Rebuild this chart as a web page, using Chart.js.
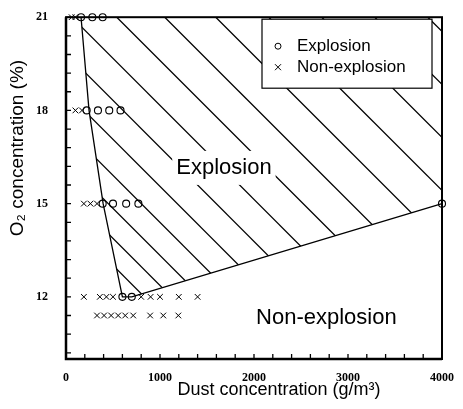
<!DOCTYPE html>
<html>
<head>
<meta charset="utf-8">
<script src="https://cdn.jsdelivr.net/npm/chart.js@4.4.0/dist/chart.umd.min.js"></script>
<style>
  html, body { margin: 0; padding: 0; background: #fff; }
</style>
</head>
<body>
<canvas id="dustChart" width="463" height="409"></canvas>
<script>
// Explosion trials (dust g/m3, O2 %)
const explosionX = [160, 280, 390,  220, 340, 460, 580,  390, 500, 640, 770,  600, 700,  4000];
const explosionY = [21, 21, 21,     18, 18, 18, 18,      15, 15, 15, 15,      12, 12,    15];

// Non-explosion trials
const nonExplosionX = [60, 100,  100, 170,  190, 260, 330,
  190, 360, 430, 500, 800, 900, 1000, 1200, 1400,
  330, 405, 480, 555, 630, 715, 895, 1035, 1195];
const nonExplosionY = [21, 21,  18, 18,  15, 15, 15,
  12, 12, 12, 12, 12, 12, 12, 12, 12,
  11.4, 11.4, 11.4, 11.4, 11.4, 11.4, 11.4, 11.4, 11.4];

// explosion limit line
const boundaryX = [160, 245, 395, 600, 700, 4000];
const boundaryY = [21, 18, 15, 12, 12, 15];

const xTicks = [0, 1000, 2000, 3000, 4000];
const yTicks = [12, 15, 18, 21];
const xMin = 0, xMax = 4000, yMin = 10, yMax = 21;
const xMinorStep = 200, yMinorStep = 0.6;

const legendItems = ['Explosion', 'Non-explosion'];

const sans = 'Liberation Sans, Arial, sans-serif';

// hatching of the explosion region + labels + legend
const decorPlugin = {
  id: 'decor',
  beforeDatasetsDraw(chart) {
    const { ctx, chartArea: area, scales: { x, y } } = chart;
    const poly = boundaryX.map((v, i) => [x.getPixelForValue(v), y.getPixelForValue(boundaryY[i])]);
    poly.push([x.getPixelForValue(xMax), y.getPixelForValue(yMax)]);

    ctx.save();
    ctx.beginPath();
    poly.forEach(([px, py], i) => i ? ctx.lineTo(px, py) : ctx.moveTo(px, py));
    ctx.closePath();
    ctx.clip();
    const cs = poly.map(([px, py]) => px - py);
    const cMin = Math.min(...cs), cMax = Math.max(...cs);
    ctx.strokeStyle = '#000';
    ctx.lineWidth = 1.3;
    let c = cMin + 22, gap = 27;
    while (c < cMax) {
      ctx.beginPath();
      ctx.moveTo(area.top + c, area.top);
      ctx.lineTo(area.bottom + c, area.bottom);
      ctx.stroke();
      c += gap;
      gap = Math.min(gap + 3, 53);
    }
    ctx.restore();

    // region labels
    ctx.save();
    ctx.font = '22px ' + sans;
    ctx.textAlign = 'center';
    ctx.textBaseline = 'middle';
    const ex = x.getPixelForValue(1680), ey = y.getPixelForValue(16.15);
    const w = ctx.measureText('Explosion').width;
    ctx.fillStyle = '#fff';
    ctx.fillRect(ex - w / 2 - 4, ey - 17, w + 8, 34);
    ctx.fillStyle = '#000';
    ctx.fillText('Explosion', ex, ey);
    ctx.fillText('Non-explosion', x.getPixelForValue(2770), y.getPixelForValue(11.33));

    // legend box
    const lx = area.right - 180, ly = area.top + 2, lw = 170, lh = 69;
    ctx.fillStyle = '#fff';
    ctx.fillRect(lx, ly, lw, lh);
    ctx.strokeStyle = '#000';
    ctx.lineWidth = 1.2;
    ctx.strokeRect(lx, ly, lw, lh);
    ctx.lineWidth = 1;
    ctx.beginPath();
    ctx.arc(lx + 16, ly + 27, 3, 0, Math.PI * 2);
    ctx.stroke();
    ctx.beginPath();
    ctx.moveTo(lx + 13, ly + 45); ctx.lineTo(lx + 19, ly + 51);
    ctx.moveTo(lx + 19, ly + 45); ctx.lineTo(lx + 13, ly + 51);
    ctx.stroke();
    ctx.fillStyle = '#000';
    ctx.font = '17px ' + sans;
    ctx.textAlign = 'left';
    ctx.fillText(legendItems[0], lx + 35, ly + 27);
    ctx.fillText(legendItems[1], lx + 35, ly + 48);
    ctx.restore();
  },
  afterDraw(chart) {
    const { ctx, chartArea: area, scales: { x, y } } = chart;
    ctx.save();
    ctx.strokeStyle = '#000';
    ctx.lineWidth = 2;
    ctx.strokeRect(area.left, area.top, area.right - area.left, area.bottom - area.top);
    ctx.lineWidth = 2.5;
    ctx.beginPath();
    ctx.moveTo(area.left, area.top); ctx.lineTo(area.left, area.bottom); ctx.lineTo(area.right, area.bottom);
    ctx.stroke();

    // inward minor ticks
    ctx.lineWidth = 1.3;
    ctx.beginPath();
    for (let v = xMin; v <= xMax; v += xMinorStep) {
      const px = x.getPixelForValue(v);
      ctx.moveTo(px, area.bottom); ctx.lineTo(px, area.bottom - 5);
    }
    for (let i = 0; ; i++) {
      const v = yMax - i * yMinorStep;
      if (v < yMin + 0.01) break;
      const py = y.getPixelForValue(v);
      ctx.moveTo(area.left, py); ctx.lineTo(area.left + 5, py);
    }
    ctx.stroke();

    // axis titles
    ctx.fillStyle = '#000';
    ctx.textAlign = 'center';
    ctx.textBaseline = 'middle';
    ctx.font = '18px ' + sans;
    ctx.fillText('Dust concentration (g/m³)', 279, 390);
    ctx.translate(18, 148);
    ctx.rotate(-Math.PI / 2);
    ctx.font = '19px ' + sans;
    ctx.fillText('O₂ concentration (%)', 0, 0);
    ctx.restore();
  }
};

const tickFont = { family: 'Liberation Serif, Times New Roman, serif', weight: 'bold', size: 12 };

new Chart(document.getElementById('dustChart'), {
  type: 'scatter',
  data: {
    datasets: [
      {
        label: 'Limit',
        data: boundaryX.map((v, i) => ({ x: v, y: boundaryY[i] })),
        showLine: true,
        borderColor: '#000',
        borderWidth: 1.3,
        pointRadius: 0,
        tension: 0,
        clip: false
      },
      {
        label: legendItems[0],
        data: explosionX.map((v, i) => ({ x: v, y: explosionY[i] })),
        pointStyle: 'circle',
        pointRadius: 3.5,
        backgroundColor: 'rgba(0,0,0,0)',
        borderColor: '#000',
        borderWidth: 1.1,
        clip: false
      },
      {
        label: legendItems[1],
        data: nonExplosionX.map((v, i) => ({ x: v, y: nonExplosionY[i] })),
        pointStyle: 'crossRot',
        pointRadius: 4,
        borderColor: '#000',
        borderWidth: 1,
        clip: false
      }
    ]
  },
  options: {
    responsive: false,
    animation: false,
    devicePixelRatio: 1,
    layout: { padding: { left: 0, top: 13, right: 21, bottom: 0 } },
    plugins: { legend: { display: false }, tooltip: { enabled: false } },
    scales: {
      x: {
        type: 'linear',
        min: xMin,
        max: xMax,
        afterBuildTicks: s => { s.ticks = xTicks.map(v => ({ value: v })); },
        afterFit: s => { s.height = 50; },
        grid: { display: false },
        border: { display: false },
        ticks: { color: '#000', font: tickFont, padding: 4, maxRotation: 0, callback: v => String(v) }
      },
      y: {
        type: 'linear',
        min: yMin,
        max: yMax,
        afterBuildTicks: s => { s.ticks = yTicks.map(v => ({ value: v })); },
        afterFit: s => { s.width = 66; },
        grid: { display: false },
        border: { display: false },
        ticks: { color: '#000', font: tickFont, padding: 10, callback: v => String(v) }
      }
    }
  },
  plugins: [decorPlugin]
});
</script>
</body>
</html>
